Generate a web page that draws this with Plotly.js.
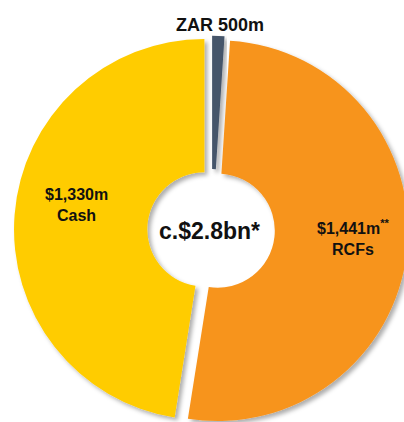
<!DOCTYPE html>
<html>
<head>
<meta charset="utf-8">
<script src="https://cdn.plot.ly/plotly-3.0.1.min.js"></script>
<style>
  html, body { margin: 0; padding: 0; background: #fff; overflow: hidden; width: 404px; height: 422px; }
  #chart { position: absolute; left: 0; top: 0; width: 420px; height: 440px; }
  .pielayer path.surface { filter: url(#sh); }
</style>
</head>
<body>
<svg width="0" height="0" style="position:absolute">
  <defs>
    <filter id="sh" x="-20%" y="-20%" width="140%" height="140%">
      <feDropShadow dx="3" dy="3" stdDeviation="2" flood-color="#000" flood-opacity="0.32"/>
    </filter>
  </defs>
</svg>
<div id="chart"></div>
<script>
// Data
const categories = ['ZAR 500m', 'RCFs', 'Cash'];
const valuesUSDm = [29, 1441, 1330];          // ZAR 500m ≈ $29m (total c.$2.8bn)
const amountLabels = ['ZAR 500m', '$1,441m<sup>**</sup>', '$1,330m'];
const centerLabel = 'c.$2.8bn*';

const colors = ['#44546A', '#F7941D', '#FFCC00'];

// Layout geometry (pixels in the 420x440 figure)
const M = { l: 14.4, r: 10.4, t: 32.4, b: 12.4 };
const W = 420, H = 440;
const PW = W - M.l - M.r, PH = H - M.t - M.b;
const px = x => (x - M.l) / PW;
const py = y => 1 - (y - M.t) / PH;

// label anchor positions (centres, px)
const labelPos = [[219.5, 25], [353, 237], [77, 205]];
const labelSize = [18, 16, 16];

const texts = categories.map((c, i) => i === 0 ? amountLabels[i] : amountLabels[i] + '<br>' + c);

const trace = {
  type: 'pie',
  labels: categories,
  values: valuesUSDm,
  textinfo: 'none',
  sort: false,
  direction: 'clockwise',
  rotation: 0,
  hole: 0.3,
  pull: [0.02, 0.03, 0.04],
  marker: { colors: colors, line: { width: 0 } },
  hoverinfo: 'none',
  automargin: false
};

const FONT = 'Liberation Sans, Arial, sans-serif';
const annotations = texts.map((t, i) => ({
  text: '<b>' + t + '</b>',
  x: px(labelPos[i][0]), y: py(labelPos[i][1]),
  xref: 'paper', yref: 'paper', xanchor: 'center', yanchor: 'middle',
  showarrow: false,
  font: { family: FONT, size: labelSize[i], color: '#111' }
}));
annotations.push({
  text: '<b>' + centerLabel + '</b>',
  x: px(210), y: py(231), xref: 'paper', yref: 'paper',
  xanchor: 'center', yanchor: 'middle',
  showarrow: false,
  font: { family: FONT, size: 23, color: '#111' }
});

const layout = {
  width: W,
  height: H,
  margin: { l: M.l, r: M.r, t: M.t, b: M.b, pad: 0 },
  showlegend: false,
  paper_bgcolor: '#fff',
  font: { family: FONT, color: '#111' },
  annotations: annotations
};

Plotly.newPlot('chart', [trace], layout, { staticPlot: true, displayModeBar: false });
</script>
</body>
</html>
